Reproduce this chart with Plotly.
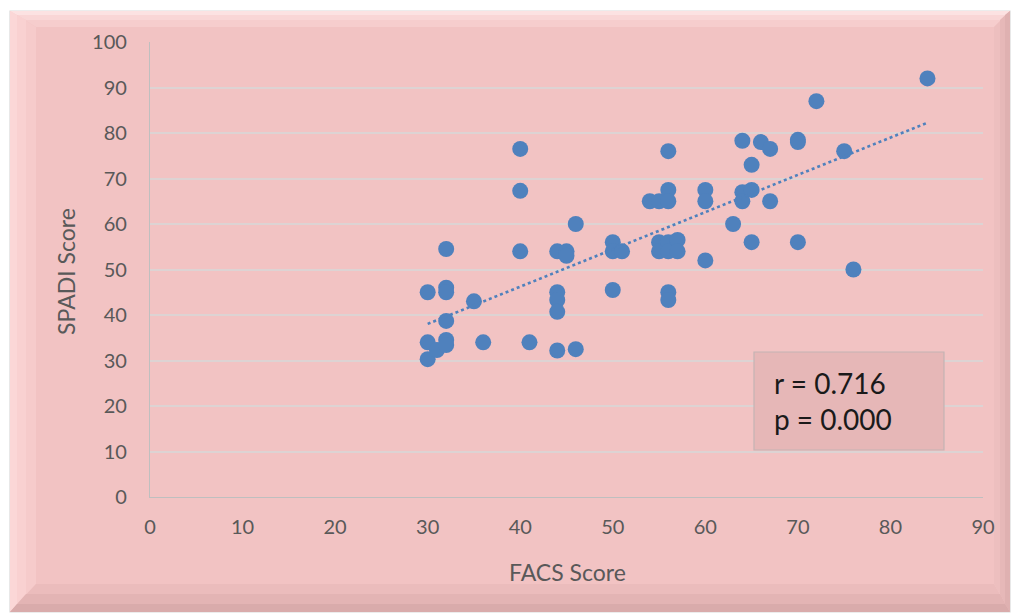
import numpy as np
import plotly.graph_objects as go

facs = [30, 30, 30, 31, 32, 32, 32, 32, 32, 32, 35, 36, 40, 40, 40, 41,
        44, 44, 44, 44, 44, 45, 45, 46, 46, 50, 50, 50, 51, 54, 55, 55,
        55, 56, 56, 56, 56, 56, 56, 56, 57, 57, 60, 60, 60, 63, 64, 64,
        64, 65, 65, 65, 66, 67, 67, 70, 70, 70, 72, 75, 76, 84]
spadi = [45, 34, 30.3, 32.3, 54.5, 46, 45, 38.7, 34.5, 33.4, 43, 34, 76.5, 67.3, 54, 34,
         54, 45, 43.3, 40.7, 32.2, 54, 53, 60, 32.5, 56, 54, 45.5, 54, 65, 65, 56,
         54, 76, 67.5, 65, 56, 54, 45, 43.3, 56.5, 54, 67.5, 65, 52, 60, 78.3, 67,
         65, 67.5, 73, 56, 78, 76.5, 65, 78.5, 78, 56, 87, 76, 50, 92]

x_ticks = [0, 10, 20, 30, 40, 50, 60, 70, 80, 90]
y_ticks = [0, 10, 20, 30, 40, 50, 60, 70, 80, 90, 100]
x_title = "FACS Score"
y_title = "SPADI Score"
stats_text = "r = 0.716<br>p = 0.000"

W, H = 1013, 615
L, R, T, B = 150, 30, 42, 118
PW, PH = W - L - R, H - T - B

def px(x):
    return (x - L) / PW

def py(y):
    return (H - B - y) / PH

slope, intercept = np.polyfit(facs, spadi, 1)
tx = [min(facs), max(facs)]
ty = [slope * v + intercept for v in tx]

BLUE = "#4F81BD"
PINK = "#F2C3C3"
FONT = "Lato, 'Open Sans', sans-serif"
GRAY = "#595959"

fig = go.Figure()
fig.add_trace(go.Scatter(x=facs, y=spadi, mode="markers",
                         marker=dict(color=BLUE, size=16, line=dict(width=0)),
                         showlegend=False, hoverinfo="x+y"))
fig.add_trace(go.Scatter(x=tx, y=ty, mode="lines",
                         line=dict(color=BLUE, width=2.6, dash="dot"),
                         showlegend=False, hoverinfo="skip"))

# outer frame with bevel
x0, y0, x1, y1 = 10, 11, 1010, 612
shapes = []
shapes.append(dict(type="rect", xref="paper", yref="paper", layer="below",
                   x0=px(x0), x1=px(x1), y0=py(y1), y1=py(y0),
                   fillcolor=PINK, line=dict(color="#D9D9D9", width=1.2)))

def poly(pts, color):
    d = "M " + " L ".join(f"{px(a):.5f},{py(b):.5f}" for a, b in pts) + " Z"
    return dict(type="path", xref="paper", yref="paper", layer="below",
                path=d, fillcolor=color, line=dict(width=0))

def bevel(bt, bl, bb, br, ct, cl, cb, cr):
    return [
        poly([(x0, y0), (x1, y0), (x1 - br, y0 + bt), (x0 + bl, y0 + bt)], ct),
        poly([(x0, y0), (x0 + bl, y0 + bt), (x0 + bl, y1 - bb), (x0, y1)], cl),
        poly([(x0, y1), (x0 + bl, y1 - bb), (x1 - br, y1 - bb), (x1, y1)], cb),
        poly([(x1, y0), (x1, y1), (x1 - br, y1 - bb), (x1 - br, y0 + bt)], cr),
    ]

shapes += bevel(16, 26, 28, 16, "#F6CDCD", "#F6CBCB", "#EBBCBC", "#EDBFBF")
shapes += bevel(9, 16, 18, 10, "#F9D6D6", "#F9D1D1", "#E3B4B4", "#E6B8B8")
shapes += bevel(4, 7, 8, 5, "#FCE2E2", "#FBD7D7", "#D9ABAB", "#DFB1B1")

# stats box
shapes.append(dict(type="rect", xref="paper", yref="paper", layer="above",
                   x0=px(754), x1=px(944), y0=py(450), y1=py(352),
                   fillcolor="#E6B7B7", line=dict(color="#C4B4B4", width=1.2)))

annotations = [
    dict(text=stats_text, xref="paper", yref="paper", x=px(772), y=py(401),
         xanchor="left", yanchor="middle", align="left", showarrow=False,
         font=dict(family=FONT, size=28, color="#1a1a1a")),
    dict(text=x_title, xref="paper", yref="paper", x=px(567), y=py(572),
         xanchor="center", yanchor="middle", showarrow=False,
         font=dict(family=FONT, size=23, color=GRAY)),
    dict(text=y_title, xref="paper", yref="paper", x=px(66), y=py(272),
         xanchor="center", yanchor="middle", showarrow=False, textangle=-90,
         font=dict(family=FONT, size=23, color=GRAY)),
]

fig.update_layout(
    width=W, height=H,
    margin=dict(l=L, r=R, t=T, b=B, pad=0),
    paper_bgcolor="white", plot_bgcolor=PINK,
    font=dict(family=FONT, color=GRAY, size=20),
    shapes=shapes, annotations=annotations,
    xaxis=dict(range=[0, 90], tickvals=x_ticks, showgrid=False, zeroline=False,
               showline=True, linecolor="#BFBFBF", linewidth=1.3,
               ticks="", ticklabelstandoff=12, tickfont=dict(size=20, color=GRAY),
               fixedrange=True),
    yaxis=dict(range=[0, 100], tickvals=y_ticks, showgrid=True, gridcolor="#DDD3D3",
               gridwidth=1.5, zeroline=False, showline=True, linecolor="#BFBFBF",
               linewidth=1.3, ticks="", ticklabelstandoff=18,
               tickfont=dict(size=20, color=GRAY), fixedrange=True),
)

fig.write_html("out.html", config={"displayModeBar": False},
               post_script="document.body.style.margin='0';document.body.style.overflow='hidden';")
